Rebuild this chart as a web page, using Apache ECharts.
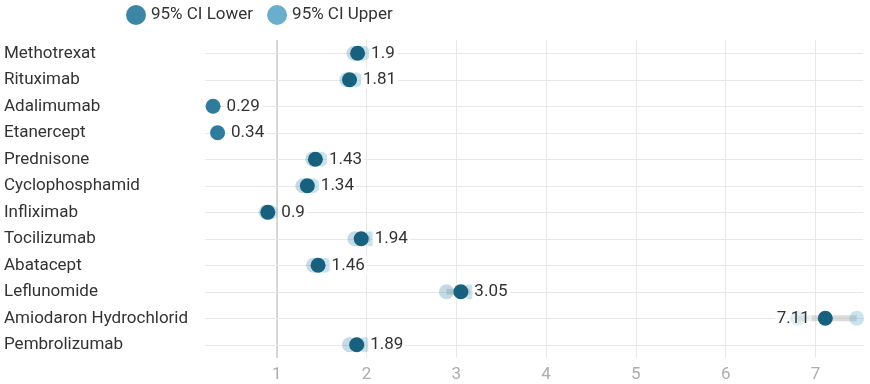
<!DOCTYPE html>
<html>
<head>
<meta charset="utf-8">
<script src="https://cdn.jsdelivr.net/npm/echarts@6/dist/echarts.min.js"></script>
<style>
html,body{margin:0;padding:0;background:#fff;}
#chart{width:870px;height:384px;}
</style>
</head>
<body>
<div id="chart"></div>
<script>
const categories = ['Methotrexat','Rituximab','Adalimumab','Etanercept','Prednisone','Cyclophosphamid','Infliximab','Tocilizumab','Abatacept','Leflunomide','Amiodaron Hydrochlorid','Pembrolizumab'];
const estimates = [1.9, 1.81, 0.29, 0.34, 1.43, 1.34, 0.9, 1.94, 1.46, 3.05, 7.11, 1.89];
const ciLower = [1.86, 1.78, null, null, 1.40, 1.29, 0.88, 1.87, 1.41, 2.89, 6.80, 1.81];
const ciUpper = [1.96, 1.88, null, null, 1.49, 1.40, 0.93, 2.04, 1.53, 3.15, 7.46, 1.98];

const FONT = 'Roboto, "Noto Sans", sans-serif';
const FS = 17;
const chart = echarts.init(document.getElementById('chart'), null, {renderer: 'canvas'});

const hasCI = i => ciLower[i] != null && ciUpper[i] != null;
const idx = categories.map((c, i) => i);

const rangeData = idx.filter(hasCI).map(i => [ciLower[i], i, ciUpper[i]]);
const lowerData = idx.filter(hasCI).map(i => [ciLower[i], i]);
const upperData = idx.filter(hasCI).map(i => [ciUpper[i], i]);

const estData = idx.map(i => {
  const item = {value: [estimates[i], i]};
  if (!hasCI(i)) item.itemStyle = {color: '#2f7b9b'};
  if (estimates[i] > 6.5) item.label = {position: 'left', distance: 6, backgroundColor: 'rgba(255,255,255,0.55)'};
  return item;
});

chart.setOption({
  animation: false,
  textStyle: {fontFamily: FONT},
  legend: {
    left: 121, top: 0,
    icon: 'circle', itemWidth: 20, itemHeight: 20, itemGap: 14,
    textStyle: {fontSize: FS, color: '#333', fontFamily: FONT},
    data: [
      {name: '95% CI Lower', itemStyle: {color: '#3d85a5', opacity: 1}},
      {name: '95% CI Upper', itemStyle: {color: '#6aaecc', opacity: 1}}
    ]
  },
  grid: {left: 205, right: 7, top: 40, bottom: 26},
  xAxis: {
    type: 'value', min: 0.2, max: 7.53,
    axisLine: {show: false}, axisTick: {show: false},
    axisLabel: {showMinLabel: false, showMaxLabel: false, color: '#adadad', fontSize: FS, margin: 8, fontFamily: FONT},
    splitLine: {show: true, showMinLine: false, showMaxLine: false, lineStyle: {color: '#e8e8e8', width: 1}}
  },
  yAxis: {
    type: 'category', data: categories, inverse: true, boundaryGap: true,
    axisLine: {show: false}, axisTick: {show: false}, splitLine: {show: false},
    axisLabel: {align: 'left', margin: 201, color: '#333', fontSize: FS, fontFamily: FONT}
  },
  series: [
    {
      type: 'scatter', name: 'grid', z: 0, silent: true, data: [],
      markLine: {
        z: 0, silent: true, symbol: 'none', label: {show: false}, animation: false,
        lineStyle: {type: 'solid', color: '#e8e8e8', width: 1},
        data: [{xAxis: 1, lineStyle: {color: '#cdcdcd', width: 1.5}}].concat(idx.map(i => ({yAxis: categories[i]})))
      }
    },
    {
      type: 'custom', name: 'range', z: 1, silent: true,
      data: rangeData,
      renderItem: function (params, api) {
        const p1 = api.coord([api.value(0), api.value(1)]);
        const p2 = api.coord([api.value(2), api.value(1)]);
        return {type: 'line', shape: {x1: p1[0], y1: p1[1], x2: p2[0], y2: p2[1]},
          style: {stroke: 'rgba(190,190,190,0.55)', lineWidth: 6}};
      }
    },
    {
      type: 'scatter', name: '95% CI Lower', z: 2, symbolSize: 15,
      data: lowerData,
      itemStyle: {color: '#3d85a5', opacity: 0.3}
    },
    {
      type: 'scatter', name: '95% CI Upper', z: 2, symbolSize: 15,
      data: upperData,
      itemStyle: {color: '#6aaecc', opacity: 0.35}
    },
    {
      type: 'scatter', name: 'Estimate', z: 3, symbolSize: 15,
      data: estData,
      itemStyle: {color: '#17617f', opacity: 1},
      label: {show: true, position: 'right', distance: 4, color: '#333', fontSize: FS, fontFamily: FONT,
        backgroundColor: '#fff', padding: [1, 2],
        formatter: p => String(p.value[0])}
    }
  ]
});
</script>
</body>
</html>
